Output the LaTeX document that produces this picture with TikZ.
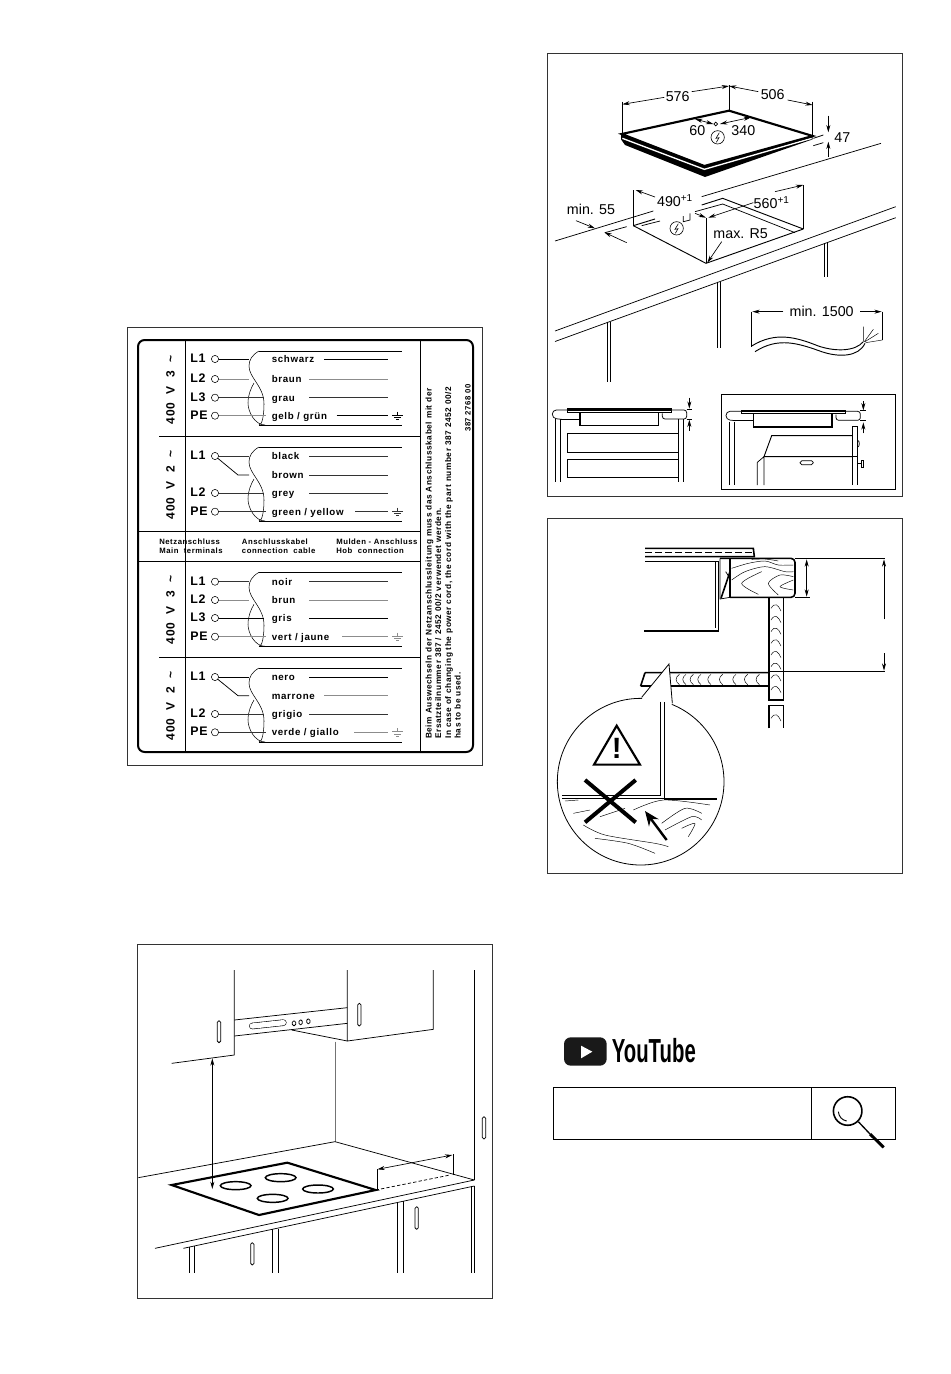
\documentclass[tikz,border=0pt]{standalone}
\usepackage{fontspec}
\setmainfont{Liberation Sans}
\newfontfamily\platefont[LetterSpace=7]{Liberation Sans}
\usetikzlibrary{positioning,arrows.meta}
\definecolor{wiredark}{gray}{0.2}
\definecolor{wirepale}{gray}{0.55}
\definecolor{framegrey}{gray}{0.2}
\tikzset{
  sheet/.style={draw=framegrey,line width=.7pt},
  enlarged/.style 2 args={shift={(#1,#2)},x=.25pt,y=-.25pt},
  pinname/.style={font=\platefont\fontsize{9.3}{11}\bfseries,inner sep=0,anchor=mid west},
  wirename/.style={font=\platefont\fontsize{7.3}{9}\bfseries,inner sep=0,anchor=mid west},
  smallprint/.style={font=\platefont\fontsize{5.8}{7}\bfseries,inner sep=0,anchor=base west},
  noteprint/.style={font=\platefont\fontsize{6.2}{7}\bfseries,inner sep=0,anchor=base west,rotate=90},
  voltage/.style={font=\platefont\fontsize{9}{11}\bfseries,inner sep=0,rotate=90},
  sizelabel/.style={font=\fontsize{10.7}{12}\selectfont,inner sep=0},
  terminal/.style={circle,draw=black,line width=.4pt,fill=white,minimum size=5.4pt,inner sep=0},
  wire/.style={line width=.55pt},
  thinline/.style={line width=.55pt},
  heavyline/.style={line width=1.2pt},
  grain/.style={line width=.35pt},
  measure/.style={line width=.5pt,-{Stealth[length=5.5pt,width=3pt]}},
  twoway/.style={line width=.5pt,{Stealth[length=5.5pt,width=3pt]}-{Stealth[length=5.5pt,width=3pt]}},
  slot/.style={double,double distance=1.7pt,line width=.45pt,line cap=round},
  cable/.pic={
    \draw[line width=.4pt] (259,351) .. controls (252,355) and (249,360) .. (249,366)
      .. controls (249,378) and (264,386) .. (264,404)
      .. controls (264,416) and (262,425) .. (259,425);
    \draw[line width=.4pt] (265,425) .. controls (255,425) and (248,412) .. (248,403)
      .. controls (248,395) and (251,388) .. (254,383);
    \draw[wire] (259,351) -- (402,351);
    \draw[wire] (259,425) -- (402,425);
  },
  earth/.pic={
    \draw[line width=.45pt] (0,-4) -- (0,-.7) (-5.5,-.7) -- (5.5,-.7) (-3.5,1.7) -- (3.5,1.7) (-1.7,4) -- (1.7,4);
  },
  bolt/.pic={
    \draw[line width=.45pt] (0,0) circle (5pt);
    \draw[line width=.45pt] (5,-14) -- (-5,3) -- (4,1) -- (-4,15);
  },
  hobsection/.pic={
    \draw[thinline,rounded corners=3pt] (50,448) -- (22,445) -- (22,420) -- (68,420);
    \draw[thinline,rounded corners=2pt] (380,420) -- (425,420) -- (425,447) -- (352,447) -- (352,430);
    \draw[thinline] (45,447) -- (103,447) -- (103,430);
    \draw[heavyline,fill=white] (68,417) rectangle (380,427);
    \fill (68,417) rectangle (380,423);
    \draw[heavyline] (105,428) -- (105,467) -- (340,467) -- (340,428);
    \draw[thinline] (425,418) -- (441,418) (425,447) -- (441,447);
  },
}
\begin{document}
\begin{tikzpicture}[x=.75pt,y=-.75pt]
    \useasboundingbox (0,0) rectangle (950,1374);
    \fill[white] (0,0) rectangle (950,1374);

    \draw[sheet] (127.5,327) rectangle (482,765);
    \draw[line width=1.5pt,rounded corners=5pt] (138,340) rectangle (473,752);
    \draw[thinline] (185.3,340) -- (185.3,752) (420.7,340) -- (420.7,752);
    \draw[thinline] (159,436.7) -- (420.7,436.7) (138,531.7) -- (420.7,531.7);
    \draw[thinline] (138,561.7) -- (420.7,561.7) (159,657) -- (420.7,657);

    \node[voltage] (volta) at (170.5,390) {400 \ V \ 3 \ \textasciitilde};
    \node[voltage] (voltb) at (170.5,485) {400 \ V \ 2 \ \textasciitilde};
    \node[voltage] (voltc) at (170.5,610) {400 \ V \ 3 \ \textasciitilde};
    \node[voltage] (voltd) at (170.5,706) {400 \ V \ 2 \ \textasciitilde};

    \foreach \shiftdown in {0,96,221.3,317} {
      \pic at (0,\shiftdown) {cable};
    }
    \foreach \ypos/\pinlabel/\wireend/\wireshade [count=\pinnum] in {
      359/L1/249/black,379/L2/249/wirepale,397.7/L3/264/wiredark,415.7/PE/266/wirepale,
      456/L1/249/wiredark,493/L2/264/wiredark,511.7/PE/266/wiredark,
      581.7/L1/249/wiredark,600/L2/249/wirepale,618/L3/264/black,636.7/PE/266/wirepale,
      677/L1/249/black,714/L2/264/wiredark,732.3/PE/266/wiredark} {
      \node[pinname] (pin\pinnum) at (190,\ypos) {\pinlabel};
      \node[terminal] (term\pinnum) at (215,\ypos) {};
      \coordinate (wireend\pinnum) at (\wireend,\ypos);
      \draw[wire,\wireshade] (term\pinnum) -- (wireend\pinnum);
    }
    \foreach \ypos/\wirelabel/\wirestart/\wireshade [count=\wordnum] in {
      359/schwarz/324/black,379/braun/309/wirepale,397.7/grau/309/wiredark,415.7/{gelb / grün}/336.6/black,
      456/black/309/wiredark,475/brown/309/wiredark,493/grey/309/wiredark,511.7/{green / yellow}/355/wiredark,
      581.7/noir/309/wiredark,600/brun/309/wirepale,618/gris/309/black,636.7/{vert / jaune}/342/wirepale,
      677/nero/309/black,695.7/marrone/324/wirepale,714/grigio/309/wiredark,732.3/{verde / giallo}/354/wirepale} {
      \node[wirename] (word\wordnum) at (271.5,\ypos) {\wirelabel};
      \coordinate (wirefrom\wordnum) at (\wirestart,\ypos);
      \coordinate (wireto\wordnum) at (388,\ypos);
      \draw[wire,\wireshade] (wirefrom\wordnum) -- (wireto\wordnum);
    }
    \foreach \ypos/\wireshade in {415.7/black,511.7/wiredark,636.7/wirepale,732.3/wirepale} {
      \pic[\wireshade] at (397.7,\ypos) {earth};
    }
    \coordinate (kneeb) at (238,475);
    \coordinate (kneed) at (238,695.7);
    \draw[wire] (term5) -- (kneeb) -- (249,475);
    \draw[wire] (term12) -- (kneed) -- (249,695.7);

    \node[smallprint] (terma) at (159,544) {Netzanschluss};
    \node[smallprint] (termb) at (159,553.5) {Main \ terminals};
    \node[smallprint] (cablea) at (241.7,544) {Anschlusskabel};
    \node[smallprint] (cableb) at (241.7,553.5) {connection \ cable};
    \node[smallprint] (huba) at (336,544) {Mulden - Anschluss};
    \node[smallprint] (hubb) at (336,553.5) {Hob \ connection};

    \node[noteprint] (notea) at (431.5,739) {Beim Auswechseln der Netzanschlussleitung muss das Anschlusskabel mit der};
    \node[noteprint] (noteb) at (441,739) {Ersatzteilnummer 387 / 2452 00/2 verwendet werden.};
    \node[noteprint] (notec) at (451,739) {In case of changing the power cord, the cord with the part number 387 2452 00/2};
    \node[noteprint] (noted) at (460.5,739) {has to be used.};
    \node[smallprint,rotate=90] (partnumber) at (470.5,432) {387 2768 00};

    \draw[sheet] (547,53) rectangle (902,496.5);
    \draw[thinline] (555,331) -- (895.7,206.7) (555,341.5) -- (895.7,217.7);
    \begin{scope}[enlarged={545}{50}]
      \fill (228,252) -- (478,346) -- (803,255) -- (803,268) -- (480,381) -- (240,285) -- (228,268) -- cycle;
      \draw[line width=1pt,white] (232,265) -- (478,358) -- (800,265);
      \draw[line width=1.6pt,fill=white] (230,252) -- (552,182) -- (803,258) -- (478,348) -- cycle;
      \draw[thinline] (232,155) -- (232,248) (552,105) -- (552,182) (803,155) -- (803,255);
      \draw[measure] (358,142) -- (232,163);
      \draw[measure] (440,125) -- (552,108);
      \draw[measure] (640,125) -- (552,108);
      \draw[measure] (728,150) -- (803,165);
      \node[sizelabel] (width) at (398,141) {576};
      \node[sizelabel] (depth) at (683,135) {506};
      \node[sizelabel] (offleft) at (457,243) {60};
      \node[sizelabel] (offright) at (595,243) {340};
      \draw[twoway] (450,207) -- (505,222);
      \draw[twoway] (525,222) -- (618,202);
      \draw[line width=.5pt] (512,222) circle (1.4pt);
      \pic at (518,262) {bolt};
      \draw[measure] (850,197) -- (850,247);
      \draw[measure] (850,320) -- (850,275);
      \draw[thinline] (805,265) -- (835,255) (805,287) -- (835,278);
      \node[sizelabel] (height) at (892,262) {47};

      \draw[thinline] (30,573) -- (325,483) (470,440) -- (1008,280);
      \draw[thinline] (180,548) -- (245,530);
      \draw[measure] (93,512) -- (150,535);
      \draw[measure] (245,578) -- (178,547);
      \node[sizelabel] (margin) at (138,478) {min. 55};
      \draw[line width=.7pt] (265,527) -- (483,640) -- (775,537);
      \draw[line width=.7pt] (265,527) -- (330,507) (470,465) -- (533,445) -- (775,537);
      \draw[thinline] (290,527) -- (345,513) (450,485) -- (533,462) -- (750,548);
      \draw[thinline] (265,420) -- (265,527) (775,405) -- (775,537) (483,505) -- (483,640);
      \draw[measure] (330,441) -- (272,420);
      \draw[measure] (450,490) -- (483,503);
      \draw[measure] (625,458) -- (490,503);
      \draw[measure] (690,425) -- (775,405);
      \node[sizelabel] (cutwidth) at (390,452) {490\textsuperscript{+1}};
      \node[sizelabel] (cutdepth) at (680,457) {560\textsuperscript{+1}};
      \draw[thinline] (415,498) -- (415,515) -- (435,510) -- (435,490);
      \pic at (395,535) {bolt};
      \node[sizelabel] (radius) at (587,552) {max. R5};
      \draw[measure] (530,575) -- (487,638);
      \draw[thinline] (838,580) -- (838,680) (848,580) -- (848,680);
    \end{scope}
    \begin{scope}[enlarged={545}{270}]
      \draw[thinline] (518,35) -- (518,235) (526,35) -- (526,235);
      \draw[thinline] (187,155) -- (187,335) (196,155) -- (196,335);
      \draw[thinline] (620,125) -- (620,230) (1012,125) -- (1012,210);
      \draw[measure] (715,125) -- (622,125);
      \draw[measure] (945,125) -- (1010,125);
      \node[sizelabel] (cordlength) at (830,124) {min. 1500};
      \draw[line width=.7pt] (620,228) .. controls (690,185) and (750,200) .. (820,228) .. controls (870,245) and (930,245) .. (955,215);
      \draw[line width=.7pt] (630,245) .. controls (700,200) and (760,220) .. (830,245) .. controls (880,262) and (940,262) .. (960,220);
      \draw[grain] (955,215) -- (955,170) (958,215) -- (985,178) (960,215) -- (1000,190) (962,218) -- (1012,210);

      \pic at (0,0) {hobsection};
      \draw[thinline] (30,448) -- (30,637) (45,448) -- (45,637) (400,448) -- (400,637) (415,448) -- (415,637);
      \draw[thinline] (67,490) rectangle (400,547) (67,567) rectangle (400,622);
      \draw[measure] (433,383) -- (433,416);
      \draw[measure] (433,482) -- (433,449);

      \draw[line width=.75pt] (529,374) rectangle (1052,658);
      \pic at (521,4) {hobsection};
      \draw[thinline] (552,455) -- (552,645) (567,455) -- (567,645);
      \draw[thinline] (922,468) rectangle (937,558) (922,558) -- (922,645) (937,558) -- (937,645);
      \draw[line width=.7pt] (922,497) -- (680,497) -- (657,560) -- (922,560);
      \draw[thinline] (657,560) -- (657,645) (637,577) -- (657,560) (637,577) -- (637,645);
      \draw[thinline,rounded corners=1.4pt] (765,572) rectangle (805,584);
      \draw[thinline] (937,510) .. controls (945,512) and (945,530) .. (937,532);
      \draw[thinline] (937,580) -- (948,580) (948,572) rectangle (955,592);
      \draw[measure] (955,393) -- (955,421);
      \draw[measure] (955,490) -- (955,457);
    \end{scope}

    \draw[sheet] (547,518) rectangle (902,873);
    \begin{scope}[enlarged={545}{515}]
      \draw[line width=1.2pt] (300,100) -- (625,100) -- (628,125) -- (300,125);
      \draw[line width=1pt,dash pattern=on 5pt off 2.5pt] (300,113) -- (622,113);
      \draw[heavyline] (525,130) -- (555,130) (555,247) -- (555,130) -- (735,130) [rounded corners=3pt] -- (750,130) -- (750,247) [sharp corners] -- (555,247);
      \draw[heavyline] (300,140) -- (520,140) -- (520,348) -- (298,348);
      \draw[thinline] (512,140) -- (512,340);
      \draw[thinline] (525,130) -- (525,252) -- (555,247);
      \draw[heavyline] (528,250) -- (555,170);
      \draw[thinline] (542,170) -- (555,190);
      \draw[grain] plot[smooth] coordinates {(560,160) (610,145) (660,138) (700,150) (745,150)};
      \draw[grain] plot[smooth] coordinates {(620,133) (660,132) (700,138)};
      \draw[grain] plot[smooth] coordinates {(560,195) (600,170) (660,155) (720,170) (745,170)};
      \draw[grain] plot[smooth] coordinates {(650,170) (590,205) (640,238)};
      \draw[grain] plot[smooth] coordinates {(745,185) (705,180) (670,205) (700,240)};
      \draw[grain] plot[smooth] coordinates {(745,195) (705,215) (745,225)};
      \draw[heavyline] (672,247) -- (672,555) -- (715,555) -- (715,247);
      \draw[heavyline] (672,640) -- (672,572) -- (715,572) -- (715,640);
      \foreach \ypos in {280,315,350,385,420,455,490,525,610} {
        \draw[grain] (678,\ypos) .. controls (690,\ypos-20) and (700,\ypos-10) .. (708,\ypos+8);
      }
      \draw[heavyline] (300,473) -- (672,473) (287,513) -- (672,513) (300,473) -- (287,513);
      \foreach \xpos in {395,415,437,460,490,525,565,600,635} {
        \draw[grain] (\xpos+8,478) .. controls (\xpos-5,488) and (\xpos-5,498) .. (\xpos+8,509);
      }
      \draw[thinline] (750,130) -- (1020,130) (750,247) -- (795,247) (672,468) -- (1020,468);
      \draw[twoway] (785,133) -- (785,245);
      \draw[measure] (1017,313) -- (1017,133);
      \draw[measure] (1017,415) -- (1017,467);

      \draw[line width=.6pt,fill=white] (287,800) circle (62.5pt);
      \fill[white] (290,549) -- (372,447) -- (382,567) -- (340,600) -- cycle;
      \draw[line width=.6pt] (290,547) -- (372,447) -- (382,565);
      \draw[thinline] (345,560) -- (345,840) -- (52,840);
      \draw[heavyline] (358,562) -- (358,852) -- (515,852) (52,850) -- (358,850);
      \draw[line width=1.6pt,line join=miter] (215,632) -- (147,749) -- (285,749) -- cycle;
      \node[inner sep=0,font=\bfseries\fontsize{22}{24}\selectfont] (danger) at (215,700) {!};
      \draw[line width=3pt] (120,795) -- (272,922) (272,795) -- (120,922);
      \draw[line width=1.8pt,-{Stealth[length=11pt,width=9pt]}] (365,975) -- (300,888);
      \draw[grain] plot[smooth] coordinates {(60,858) (100,855)};
      \draw[grain] plot[smooth] coordinates {(85,895) (135,885)};
      \draw[grain] plot[smooth] coordinates {(165,905) (240,880)};
      \draw[grain] plot[smooth] coordinates {(265,885) (355,855) (495,870)};
      \draw[grain] plot[smooth] coordinates {(115,930) (180,960) (330,985) (370,995)};
      \draw[grain] plot[smooth] coordinates {(150,970) (250,985) (330,1015)};
      \draw[grain] plot[smooth] coordinates {(350,925) (420,880) (470,895)};
      \draw[grain] plot[smooth] coordinates {(360,945) (440,905) (470,915)};
      \draw[grain] plot[smooth] coordinates {(410,940) (450,925) (430,965)};
    \end{scope}

    \draw[sheet] (137.7,944.3) rectangle (492.3,1298.3);
    \begin{scope}[enlarged={135}{940}]
      \draw[thinline] (298,90) -- (298,345) -- (110,370);
      \draw[thinline] (298,240) -- (637,203) (298,288) -- (637,250);
      \draw[slot,double distance=4pt] (352,258) -- (445,248);
      \foreach \xpos/\ypos in {477/250,497/247,520/244} {
        \draw[thinline,rounded corners=1pt] (\xpos-5,\ypos-7) rectangle (\xpos+5,\ypos+7);
      }
      \draw[thinline] (637,90) -- (637,303) -- (895,268) -- (895,90);
      \draw[thinline] (470,270) -- (637,303);
      \draw[line width=.55pt,black!55] (600,305) -- (600,605);
      \draw[thinline] (10,713) -- (600,605) -- (1018,720);
      \draw[thinline] (1018,90) -- (1018,720);
      \draw[thinline] (60,925) -- (1018,720) (145,925) -- (1018,738);
      \foreach \xpos/\ystart in {163/920,178/918,412/868,430/866,787/787,805/783,1008/738,1018/738} {
        \draw[thinline] (\xpos,\ystart) -- (\xpos,1000);
      }
      \foreach \xpos/\ytop/\ybot in {252/242/308,673/190/258,1047/530/597,352/908/975,845/800/868} {
        \draw[thinline,rounded corners=1.2pt] (\xpos-5,\ytop) rectangle (\xpos+5,\ybot);
      }
      \draw[line width=1.6pt,line join=miter] (110,735) -- (457,668) -- (722,750) -- (372,825) -- cycle;
      \foreach \xpos/\ypos in {302/737,437/713,549/747,413/775} {
        \draw[line width=1.1pt] (\xpos,\ypos) ellipse (11.5pt and 3pt);
      }
      \draw[twoway] (232,355) -- (232,747);
      \draw[thinline] (727,750) -- (727,688) (955,705) -- (955,643);
      \draw[twoway] (727,688) -- (952,645);
      \draw[thinline,dash pattern=on 2.5pt off 1.6pt] (722,750) -- (945,705);
    \end{scope}

    \begin{scope}[enlarged={545}{1025}]
      \fill[rounded corners=5pt,black!90] (57,37) rectangle (185,122);
      \fill[white] (108,62) -- (142,80) -- (108,100) -- cycle;
      \node[inner sep=0,anchor=mid west,xscale=.61,font=\bfseries\fontsize{25}{26}\selectfont] (brand) at (200,102) {YouTube};
      \draw[thinline] (25,187) rectangle (1052,343) (800,187) -- (800,343);
      \draw[line width=1.2pt] (908,258) circle (10.7pt);
      \draw[line width=.7pt] (880,260) .. controls (882,275) and (890,285) .. (905,288);
      \draw[line width=1pt] (940,290) -- (975,327);
      \draw[line width=2.2pt] (975,327) -- (1016,367);
    \end{scope}
  \end{tikzpicture}
\end{document}
